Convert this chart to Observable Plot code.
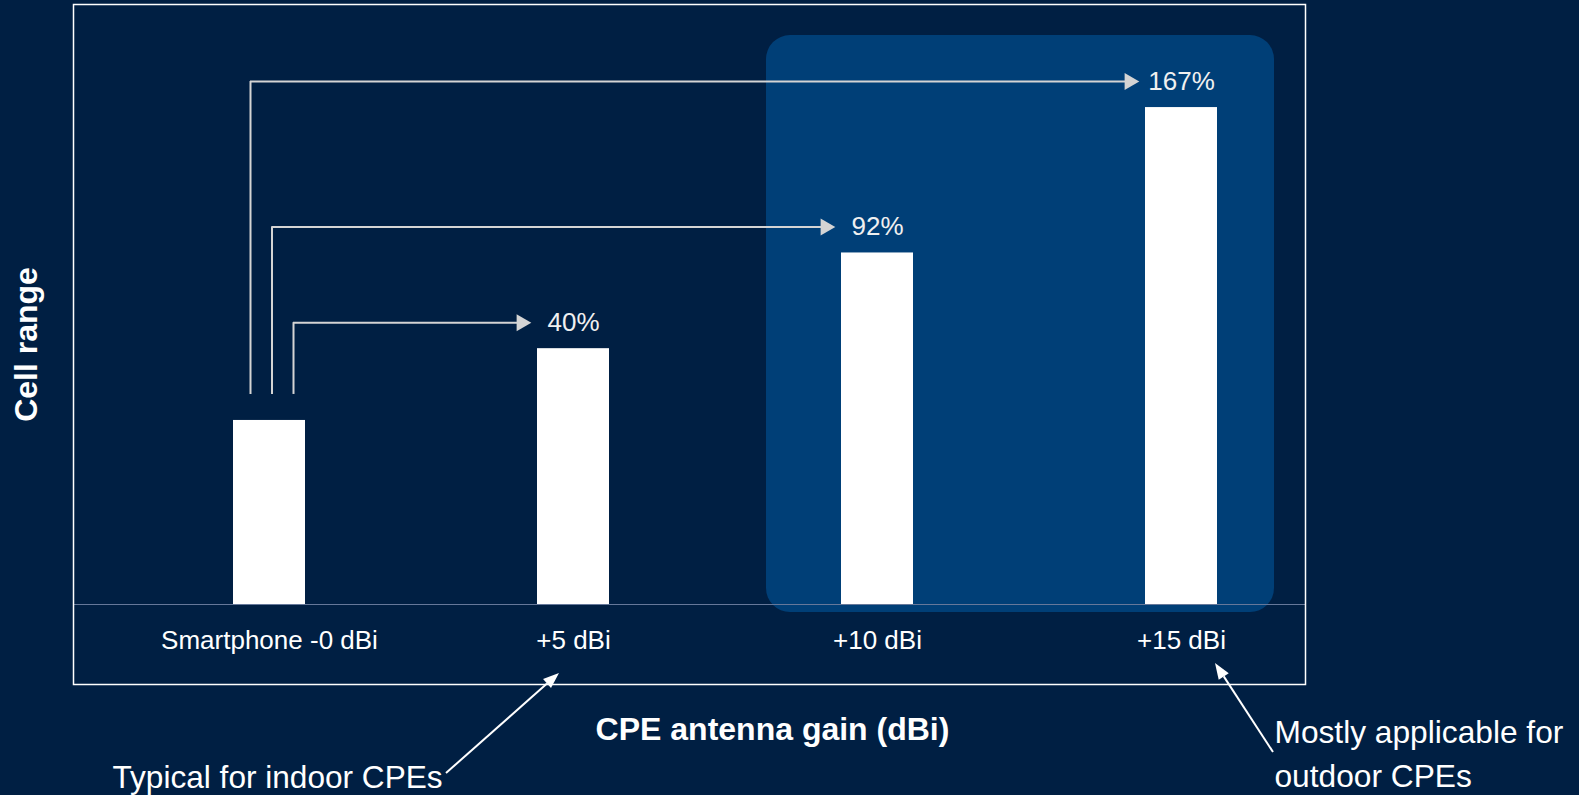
<!DOCTYPE html>
<html><head><meta charset="utf-8">
<script src="https://cdn.jsdelivr.net/npm/d3@7"></script>
<script src="https://cdn.jsdelivr.net/npm/@observablehq/plot@0.6"></script>
<style>
html,body{margin:0;padding:0;background:#001f43;}
#chart{width:1579px;height:795px;overflow:hidden}
</style></head><body><div id="chart"></div>
<script>
// ---- data ----
const categories = ["Smartphone -0 dBi", "+5 dBi", "+10 dBi", "+15 dBi"];
const cellRange = [100, 139, 191, 270];           // relative cell range (smartphone = 100)
const gainLabels = ["", "40%", "92%", "167%"];     // range increase vs smartphone
const highlighted = ["+10 dBi", "+15 dBi"];
const xTitle = "CPE antenna gain (dBi)";
const yTitle = "Cell range";
const noteIndoor = "Typical for indoor CPEs";
const noteOutdoor = "Mostly applicable for\noutdoor CPEs";

const bars = categories.map((c, i) => ({category: c, value: cellRange[i], label: gainLabels[i]}));
const base = bars[0];
const targets = bars.filter(d => d.label);

const FONT = '"Liberation Sans", Arial, sans-serif';
const arrowColor = "#d4d4d4";

// elbow arrows from the smartphone bar to each labelled bar
const elbowMarks = targets.map((t, j) => {
  const off = 24 - 21.5 * j;
  return [
    Plot.ruleX([t], {x: () => base.category, y1: () => base.value, y2: "value", dx: off, dy: -26, stroke: arrowColor, strokeWidth: 2}),
    Plot.ruleY([t], {x1: () => base.category, x2: "category", y: "value", dy: -26, insetLeft: 36 + off, insetRight: 86, stroke: arrowColor, strokeWidth: 2})
  ];
});

// annotation arrows below the frame, positioned from the x scale
function annotationArrows(...args) {
  const scales = args.find(a => a && typeof a.x === "function");
  const dims = args.find(a => a && typeof a.marginBottom === "number" && typeof a.height === "number");
  const x = scales.x, bw = x.bandwidth ? x.bandwidth() : 0;
  const bottom = dims.height - dims.marginBottom;
  const g = d3.create("svg:g");
  const specs = [
    {cat: categories[1], from: [-127, 89], to: [-14, -11]},
    {cat: categories[3], from: [92, 68], to: [34, -21]}
  ];
  for (const s of specs) {
    const cx = x(s.cat) + bw / 2;
    const x1 = cx + s.from[0], y1 = bottom + s.from[1];
    const x2 = cx + s.to[0], y2 = bottom + s.to[1];
    const a = Math.atan2(y2 - y1, x2 - x1);
    const L = 16, W = 6;
    const bx = x2 - L * Math.cos(a), by = y2 - L * Math.sin(a);
    g.append("line").attr("x1", x1).attr("y1", y1).attr("x2", bx).attr("y2", by)
      .attr("stroke", "white").attr("stroke-width", 2);
    g.append("polygon").attr("fill", "white").attr("points", [
      [x2, y2],
      [bx + W * Math.sin(a), by - W * Math.cos(a)],
      [bx - W * Math.sin(a), by + W * Math.cos(a)]
    ].map(p => p.join(",")).join(" "));
  }
  return g.node();
}

const chart = Plot.plot({
  width: 1579,
  height: 795,
  marginLeft: 73,
  marginRight: 274,
  marginTop: 4,
  marginBottom: 111,
  style: {background: "#001f43", color: "#ffffff", fontFamily: FONT, fontSize: "26px"},
  x: {domain: categories, paddingInner: 0.763, paddingOuter: 0.4078, align: 0.645, axis: null},
  y: {domain: [0, 326], range: [604, 4], axis: null},
  marks: [
    Plot.rect([highlighted], {x1: d => d[0], x2: d => d[1], y1: 0, y2: d3.max(cellRange),
      insetLeft: -75, insetRight: -57, insetTop: -72, insetBottom: -8, rx: 24, fill: "#003f77"}),
    Plot.ruleY([0], {stroke: "#66789a", strokeWidth: 1}),
    Plot.barY(bars, {x: "category", y: "value", fill: "white"}),
    elbowMarks,
    Plot.dot(targets, {x: "category", y: "value", dx: -52, dy: -26, symbol: "triangle", r: 6.3, rotate: 90, fill: arrowColor, stroke: null}),
    Plot.text(targets, {x: "category", y: "value", text: "label", dy: -26, lineAnchor: "middle", fontSize: 26, fill: "#f0f0f0"}),
    Plot.text(categories, {x: d => d, frameAnchor: "bottom", dy: -44, lineAnchor: "middle", fontSize: 26, fill: "white"}),
    Plot.frame({stroke: "white", strokeWidth: 1.5}),
    Plot.text([xTitle], {frameAnchor: "bottom", dx: 83, dy: 45, lineAnchor: "middle", fontSize: 32, fontWeight: "bold", fill: "white"}),
    Plot.text([yTitle], {frameAnchor: "left", dx: -47, rotate: -90, textAnchor: "middle", lineAnchor: "middle", fontSize: 32, fontWeight: "bold", fill: "white"}),
    Plot.text([noteIndoor], {frameAnchor: "bottom-left", dx: 39, dy: 93, textAnchor: "start", lineAnchor: "middle", fontSize: 31.6, fill: "white"}),
    Plot.text([noteOutdoor], {frameAnchor: "bottom-right", dx: -31, dy: 66.5, textAnchor: "start", lineAnchor: "middle", lineHeight: 1.4, fontSize: 31.7, fill: "white"}),
    annotationArrows
  ]
});
document.getElementById("chart").appendChild(chart);
</script>
</body></html>
